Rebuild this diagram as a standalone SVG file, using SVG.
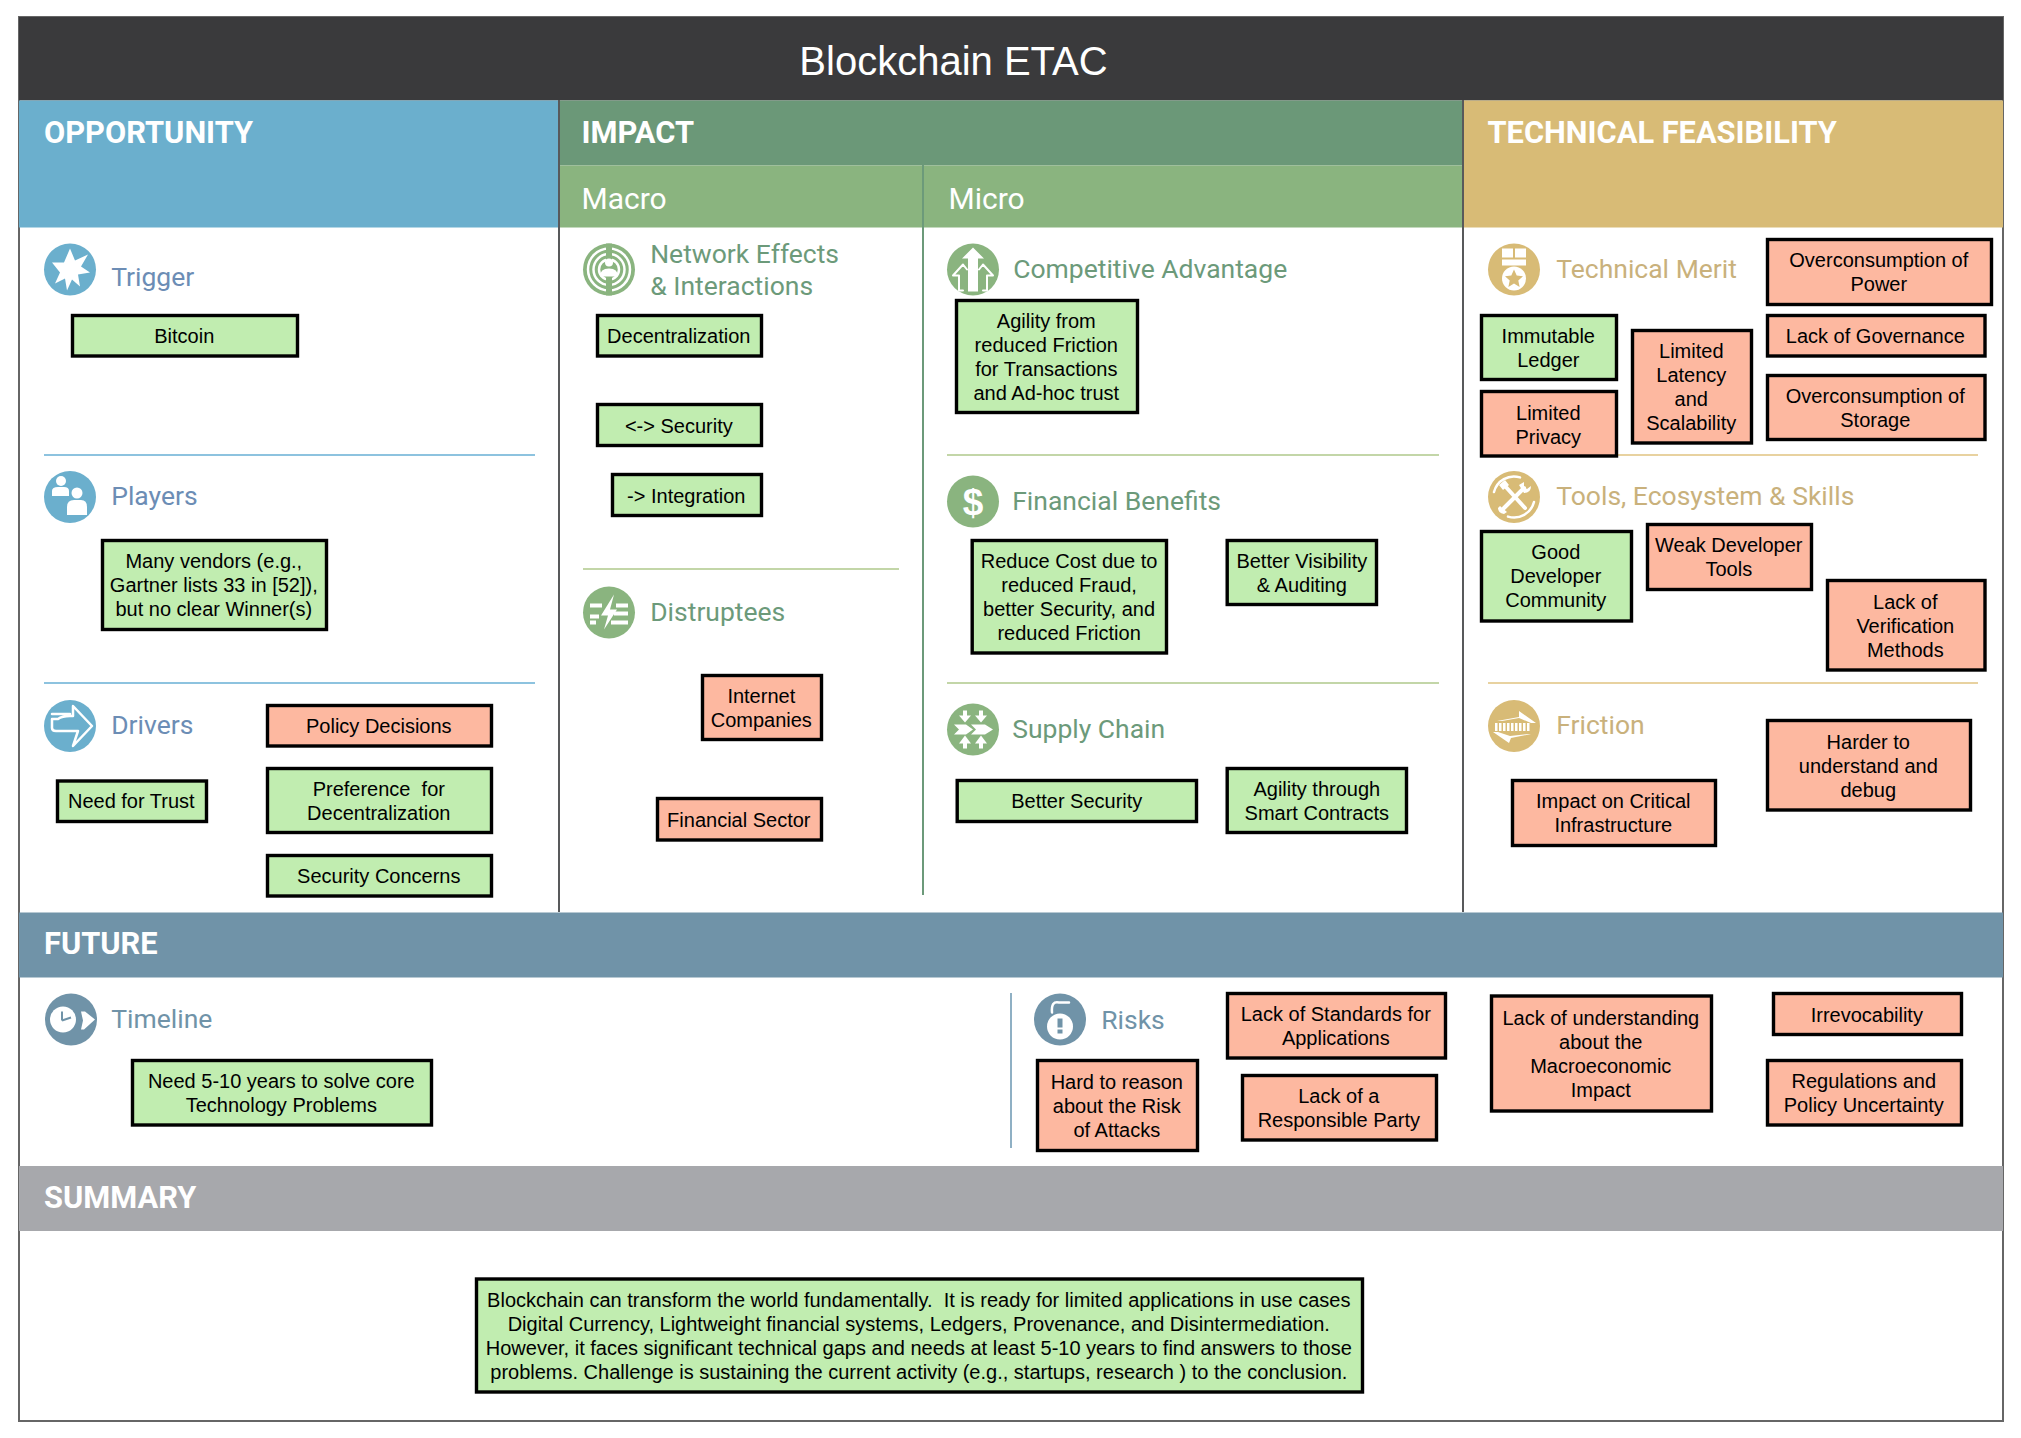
<svg xmlns="http://www.w3.org/2000/svg" width="2021" height="1438" viewBox="0 0 2021 1438">
<style>
text{white-space:pre}
.b{font:20px "Liberation Sans",Arial,sans-serif;fill:#000;text-anchor:middle;transform:translateX(-.7px)}
.g{fill:#c1edb0;stroke:#000;stroke-width:3.4}
.r{fill:#fdb8a0;stroke:#000;stroke-width:3.4}
.h{font:bold 30.8px Roboto,"Liberation Sans",sans-serif;fill:#fff}
.m{font:30px Roboto,"Liberation Sans",sans-serif;fill:#fff}
.s{font:26.5px Roboto,"Liberation Sans",sans-serif;transform:translate(-.8px,1px)}
.cb{fill:#6c8db5}.cg{fill:#6c9a7a}.cy{fill:#c9b17c}.cf{fill:#7093a8}
.w{fill:#fff}.ol{fill:none;stroke:#fff;stroke-width:2.5;stroke-linecap:round;stroke-linejoin:round}
.sb{stroke:#8dc3df;stroke-width:2}.sg{stroke:#c3d6a8;stroke-width:2}.sy{stroke:#e8d2a0;stroke-width:2}
</style>
<rect width="2021" height="1438" fill="#fff"/>
<g id="bands">
<rect x="19" y="17" width="1984" height="1404" fill="#fff" stroke="#666" stroke-width="2"/>
<rect x="19" y="17" width="1984" height="83.500" fill="#3a3a3c"/>
<rect x="19" y="100.500" width="540" height="127" fill="#6bafcd"/>
<rect x="559" y="100.500" width="904" height="65" fill="#6b9878"/>
<rect x="559" y="165.500" width="904" height="62" fill="#8ab47f"/>
<rect x="1463" y="100.500" width="540" height="127" fill="#d8bb76"/>
<rect x="19" y="912.500" width="1984" height="65" fill="#7093a8"/>
<rect x="19" y="1166" width="1984" height="65" fill="#a7a8ac"/>
<text x="953.500" y="74.500" font-family="Liberation Sans,Arial,sans-serif" font-size="40" fill="#fff" text-anchor="middle">Blockchain ETAC</text>
<text class="h" x="44" y="143">OPPORTUNITY</text>
<text class="h" x="581.500" y="143">IMPACT</text>
<text class="h" x="1487.500" y="143">TECHNICAL FEASIBILITY</text>
<text class="h" x="44" y="954">FUTURE</text>
<text class="h" x="44" y="1208">SUMMARY</text>
<text class="m" x="581.500" y="209">Macro</text>
<text class="m" x="948.500" y="208.500">Micro</text>
</g>
<g id="connectors" fill="none">
<line x1="559" y1="100" x2="559" y2="912" stroke="#58595b" stroke-width="2"/>
<line x1="1463" y1="100" x2="1463" y2="912" stroke="#58595b" stroke-width="2"/>
<line x1="923" y1="165" x2="923" y2="895" stroke="#6c9a7a" stroke-width="2"/>
<line x1="1011" y1="993" x2="1011" y2="1148" stroke="#8fb0c4" stroke-width="2"/>
<line class="sb" x1="44" y1="455" x2="535" y2="455"/>
<line class="sb" x1="44" y1="683" x2="535" y2="683"/>
<line class="sg" x1="583" y1="569" x2="899" y2="569"/>
<line class="sg" x1="947" y1="455" x2="1439" y2="455"/>
<line class="sg" x1="947" y1="683" x2="1439" y2="683"/>
<line class="sy" x1="1618" y1="455" x2="1978" y2="455"/>
<line class="sy" x1="1488" y1="683" x2="1978" y2="683"/>
</g>

<g id="icon-trigger" transform="translate(70 269.500)"><circle r="26" fill="#6bafcd"/><polygon class="w" points="0,-21 5,-9 18,-15 11,-3 20,3 8,5 10,17 2,10 -3,21 -5,9 -15,14 -10,3 -18,-7 -6,-7"/></g>
<text class="s cb" x="112" y="285">Trigger</text>
<g id="icon-players" transform="translate(70 497)"><circle r="26" fill="#6bafcd"/><circle class="w" cx="-9" cy="-16" r="5"/><path class="w" d="M-18,-1V-6Q-18,-10 -12,-10H-6Q-1,-10 -1,-6V-1Z"/><circle class="w" cx="7" cy="-4" r="5.500"/><path class="w" d="M-3,18V10Q-3,3 4,3H11Q17,3 17,10V18Z"/></g>
<text class="s cb" x="112" y="504">Players</text>
<g id="icon-drivers" transform="translate(70 726)"><circle r="26" fill="#6bafcd"/><path class="ol" d="M-18,-7H-12Q-8,-10 0,-10H3V-20L22,0L3,20L8,5H-4M-18,-7V2Q-18,5 -14,5H-4M-18,-12H0"/></g>
<text class="s cb" x="112" y="733">Drivers</text>

<g id="icon-network" transform="translate(609 269.500)"><circle r="26" fill="#8ab47f"/><circle r="21" class="ol"/><circle r="15.500" class="ol"/><circle r="10" class="ol"/><rect x="-3" y="-26" width="6" height="52" fill="#8ab47f"/><circle class="w" cy="-7" r="4"/><path class="w" d="M-9,7Q-9,-1 0,-1Q9,-1 9,7Z"/></g>
<text class="s cg" x="651" y="262">Network Effects</text>
<text class="s cg" x="651" y="293.500">&amp; Interactions</text>
<g id="icon-disruptees" transform="translate(609 612.500)"><circle r="26" fill="#8ab47f"/><path class="w" d="M-19,-9H-7V-5H-19ZM-19,2H-10V6H-19ZM-19,8H-13V12H-19ZM7,-9H19V-5H7ZM5,-1H19V3H5ZM2,8H19V12H2Z"/><polygon class="w" points="5,-18 -8,3 -1,3 -5,17 8,-3 1,-3"/></g>
<text class="s cg" x="651" y="620">Distruptees</text>

<g id="icon-competitive" transform="translate(973 269.500)"><circle r="26" fill="#8ab47f"/><polygon class="w" points="0,-22 11,-11 5,-11 5,22 -5,22 -5,-11 -11,-11"/><path class="ol" style="stroke-width:2" d="M-10,21H-14V6H-20L-10,-5L-6,0M10,21H14V6H20L10,-5L6,0"/></g>
<text class="s cg" x="1014" y="277">Competitive Advantage</text>
<g id="icon-financial" transform="translate(973 501.500)"><circle r="26" fill="#8ab47f"/><text x="0" y="13" font-family="Liberation Sans,Arial,sans-serif" font-weight="bold" font-size="37" fill="#fff" text-anchor="middle">$</text></g>
<text class="s cg" x="1013" y="509">Financial Benefits</text>
<g id="icon-supply" transform="translate(973 729.500)"><circle r="26" fill="#8ab47f"/><path class="w" d="M-10,-19H-6V-14H-2L-8,-7L-14,-14H-10ZM6,-19H10V-14H14L8,-7L2,-14H6ZM-8,6L-14,14H-10V19H-6V14H-2ZM8,6L2,14H6V19H10V14H14Z"/><polygon class="w" points="-19,-5 -7,-5 0,0 -7,5 -19,5 -14,0"/><polygon class="w" points="-2,-5 12,-5 20,0 12,5 -2,5 3,0"/></g>
<text class="s cg" x="1013" y="737">Supply Chain</text>

<g id="icon-merit" transform="translate(1514 269.500)"><circle r="26" fill="#d8bb76"/><rect class="w" x="-12" y="-21" width="11" height="9"/><rect class="w" x="1" y="-21" width="11" height="9"/><rect class="w" x="-12" y="-10" width="24" height="6"/><circle class="w" cy="9" r="12"/><polygon points="0,0 2.700,6 9,6.700 4.300,11 5.600,17.500 0,14 -5.600,17.500 -4.300,11 -9,6.700 -2.700,6" fill="#d8bb76"/></g>
<text class="s cy" x="1557" y="277">Technical Merit</text>
<g id="icon-tools" transform="translate(1514 497)"><circle r="26" fill="#d8bb76"/><path class="ol" d="M-20,-5A20.500,20.500 0 0 1 6,-19.600M20,5A20.500,20.500 0 0 1 -6,19.600"/><path class="ol" style="stroke-width:4" d="M-10,11L10,-9M-9,-11L11,11"/><path class="w" d="M-15,-12L-9,-17L-5,-12L-11,-7ZM5,-12L10,-15V-10L13,-8L17,-11Q17,-4 10,-4ZM-14,9L-7,15L-10,17Q-16,16 -16,11Z"/></g>
<text class="s cy" x="1557" y="504">Tools, Ecosystem &amp; Skills</text>
<g id="icon-friction" transform="translate(1514 726)"><circle r="26" fill="#d8bb76"/><polygon class="w" points="5,-15 22,-3 17,-3 5,-8 -12,-5 -17,-5 5,-9"/><polygon class="w" points="-5,17 -21,6 -16,6 -4,10 14,8 17,8 -3,12"/><line x1="-19" y1="1" x2="17" y2="1" stroke="#fff" stroke-width="8" stroke-dasharray="2.500 1.500"/></g>
<text class="s cy" x="1557" y="733">Friction</text>

<g id="icon-timeline" transform="translate(71 1019.500)"><circle r="26" fill="#7093a8"/><circle class="w" cx="-8" cy="0" r="13"/><path d="M-9,1V-8M-9,1L0,-2" fill="none" stroke="#7093a8" stroke-width="2"/><polygon class="w" points="10,-8 14,-8 24,0 13,10 10,10 12,1"/></g>
<text class="s cf" x="112" y="1027">Timeline</text>
<g id="icon-risks" transform="translate(1060 1019.500)"><circle r="26" fill="#7093a8"/><circle class="w" cy="7" r="13"/><path class="ol" d="M-8,-7Q-9,-19 -1,-17H9M-8,-7"/><rect x="-2.500" y="-1" width="5" height="9" fill="#7093a8"/><rect x="-2.500" y="10" width="5" height="4" fill="#7093a8"/></g>
<text class="s cf" x="1102" y="1028">Risks</text>

<g id="n-bitcoin"><rect class="g" x="72.500" y="315.500" width="225" height="40.500"/><text class="b" x="185" y="343">Bitcoin</text></g>
<g id="n-vendors"><rect class="g" x="102.500" y="540.500" width="224" height="89"/><text class="b"><tspan x="214.500" y="568">Many vendors (e.g.,</tspan><tspan x="214.500" y="592">Gartner lists 33 in [52]),</tspan><tspan x="214.500" y="616">but no clear Winner(s)</tspan></text></g>
<g id="n-policy"><rect class="r" x="267.500" y="705.500" width="224" height="40.500"/><text class="b" x="379.500" y="733">Policy Decisions</text></g>
<g id="n-pref"><rect class="g" x="267.500" y="768.500" width="224" height="64"/><text class="b"><tspan x="379.500" y="795.500">Preference  for</tspan><tspan x="379.500" y="819.500">Decentralization</tspan></text></g>
<g id="n-secc"><rect class="g" x="267.500" y="855.500" width="224" height="40.500"/><text class="b" x="379.500" y="883">Security Concerns</text></g>
<g id="n-need"><rect class="g" x="57.500" y="781" width="149" height="40.500"/><text class="b" x="132" y="808">Need for Trust</text></g>
<g id="n-decent"><rect class="g" x="597.500" y="315.500" width="164" height="40.500"/><text class="b" x="679.500" y="343">Decentralization</text></g>
<g id="n-security"><rect class="g" x="597.500" y="404.500" width="164" height="41"/><text class="b" x="679.500" y="432.500">&lt;-&gt; Security</text></g>
<g id="n-integ"><rect class="g" x="612.500" y="474.500" width="149" height="41"/><text class="b" x="687" y="502.500">-&gt; Integration</text></g>
<g id="n-internet"><rect class="r" x="702.500" y="675.500" width="119" height="64"/><text class="b"><tspan x="762" y="702.500">Internet</tspan><tspan x="762" y="726.500">Companies</tspan></text></g>
<g id="n-fin"><rect class="r" x="657.500" y="798.500" width="164" height="41.500"/><text class="b" x="739.500" y="827">Financial Sector</text></g>
<g id="n-agility"><rect class="g" x="956.500" y="300.500" width="181" height="112"/><text class="b"><tspan x="1047" y="327.500">Agility from</tspan><tspan x="1047" y="351.500">reduced Friction</tspan><tspan x="1047" y="375.500">for Transactions</tspan><tspan x="1047" y="399.500">and Ad-hoc trust</tspan></text></g>
<g id="n-reduce"><rect class="g" x="972.200" y="540.500" width="194.300" height="112.500"/><text class="b"><tspan x="1069.800" y="567.500">Reduce Cost due to</tspan><tspan x="1069.800" y="591.500">reduced Fraud,</tspan><tspan x="1069.800" y="615.500">better Security, and</tspan><tspan x="1069.800" y="639.500">reduced Friction</tspan></text></g>
<g id="n-vis"><rect class="g" x="1227.200" y="540.500" width="149.300" height="64"/><text class="b"><tspan x="1302.500" y="567.500">Better Visibility</tspan><tspan x="1302.500" y="591.500">&amp; Auditing</tspan></text></g>
<g id="n-bsec"><rect class="g" x="957.200" y="780.500" width="239.300" height="41"/><text class="b" x="1077.500" y="808">Better Security</text></g>
<g id="n-smart"><rect class="g" x="1227.200" y="768.500" width="179.300" height="64"/><text class="b"><tspan x="1317.500" y="795.500">Agility through</tspan><tspan x="1317.500" y="819.500">Smart Contracts</tspan></text></g>
<g id="n-power"><rect class="r" x="1767.500" y="239.500" width="224" height="65"/><text class="b"><tspan x="1879.500" y="267">Overconsumption of</tspan><tspan x="1879.500" y="291">Power</tspan></text></g>
<g id="n-gov"><rect class="r" x="1767.500" y="315.500" width="217.500" height="40.500"/><text class="b" x="1876" y="343">Lack of Governance</text></g>
<g id="n-storage"><rect class="r" x="1767.500" y="375.500" width="217.500" height="64"/><text class="b"><tspan x="1876" y="402.500">Overconsumption of</tspan><tspan x="1876" y="426.500">Storage</tspan></text></g>
<g id="n-immut"><rect class="g" x="1481.500" y="315.500" width="135" height="64"/><text class="b"><tspan x="1549" y="342.500">Immutable</tspan><tspan x="1549" y="366.500">Ledger</tspan></text></g>
<g id="n-priv"><rect class="r" x="1481.500" y="391.500" width="135" height="64.500"/><text class="b"><tspan x="1549" y="419.500">Limited</tspan><tspan x="1549" y="443.500">Privacy</tspan></text></g>
<g id="n-latency"><rect class="r" x="1632.500" y="330.500" width="119" height="112.500"/><text class="b"><tspan x="1692" y="357.500">Limited</tspan><tspan x="1692" y="381.500">Latency</tspan><tspan x="1692" y="405.500">and</tspan><tspan x="1692" y="429.500">Scalability</tspan></text></g>
<g id="n-gooddev"><rect class="g" x="1481.500" y="531.500" width="150" height="89.500"/><text class="b"><tspan x="1556.500" y="559">Good</tspan><tspan x="1556.500" y="583">Developer</tspan><tspan x="1556.500" y="607">Community</tspan></text></g>
<g id="n-weak"><rect class="r" x="1647.500" y="524.500" width="164" height="65"/><text class="b"><tspan x="1729.500" y="552">Weak Developer</tspan><tspan x="1729.500" y="576">Tools</tspan></text></g>
<g id="n-verif"><rect class="r" x="1827.500" y="580.500" width="157.500" height="89.500"/><text class="b"><tspan x="1906" y="608.500">Lack of</tspan><tspan x="1906" y="632.500">Verification</tspan><tspan x="1906" y="656.500">Methods</tspan></text></g>
<g id="n-crit"><rect class="r" x="1512.500" y="780.500" width="203" height="65"/><text class="b"><tspan x="1614" y="808">Impact on Critical</tspan><tspan x="1614" y="832">Infrastructure</tspan></text></g>
<g id="n-harder"><rect class="r" x="1767.500" y="720.500" width="203" height="89.500"/><text class="b"><tspan x="1869" y="748.500">Harder to</tspan><tspan x="1869" y="772.500">understand and</tspan><tspan x="1869" y="796.500">debug</tspan></text></g>
<g id="n-need5"><rect class="g" x="132.500" y="1060.500" width="299" height="64.500"/><text class="b"><tspan x="282" y="1087.500">Need 5-10 years to solve core</tspan><tspan x="282" y="1111.500">Technology Problems</tspan></text></g>
<g id="n-standards"><rect class="r" x="1227.500" y="993.500" width="218" height="64.500"/><text class="b"><tspan x="1336.500" y="1020.500">Lack of Standards for</tspan><tspan x="1336.500" y="1044.500">Applications</tspan></text></g>
<g id="n-party"><rect class="r" x="1242.500" y="1075.500" width="194" height="64.500"/><text class="b"><tspan x="1339.500" y="1103">Lack of a</tspan><tspan x="1339.500" y="1127">Responsible Party</tspan></text></g>
<g id="n-hard"><rect class="r" x="1037.500" y="1060.500" width="160" height="90"/><text class="b"><tspan x="1117.500" y="1088.500">Hard to reason</tspan><tspan x="1117.500" y="1112.500">about the Risk</tspan><tspan x="1117.500" y="1136.500">of Attacks</tspan></text></g>
<g id="n-macro"><rect class="r" x="1491.500" y="996" width="220" height="115"/><text class="b"><tspan x="1601.500" y="1025">Lack of understanding</tspan><tspan x="1601.500" y="1049">about the</tspan><tspan x="1601.500" y="1073">Macroeconomic</tspan><tspan x="1601.500" y="1097">Impact</tspan></text></g>
<g id="n-irrev"><rect class="r" x="1773.500" y="993.500" width="188" height="41"/><text class="b" x="1867.500" y="1022">Irrevocability</text></g>
<g id="n-reg"><rect class="r" x="1767.500" y="1060.500" width="194" height="64.500"/><text class="b"><tspan x="1864.500" y="1087.500">Regulations and</tspan><tspan x="1864.500" y="1111.500">Policy Uncertainty</tspan></text></g>
<g id="n-summary"><rect class="g" x="476.500" y="1279" width="886" height="113"/><text class="b"><tspan x="919.500" y="1307">Blockchain can transform the world fundamentally.  It is ready for limited applications in use cases</tspan><tspan x="919.500" y="1331">Digital Currency, Lightweight financial systems, Ledgers, Provenance, and Disintermediation.</tspan><tspan x="919.500" y="1355">However, it faces significant technical gaps and needs at least 5-10 years to find answers to those</tspan><tspan x="919.500" y="1379">problems. Challenge is sustaining the current activity (e.g., startups, research ) to the conclusion.</tspan></text></g>
</svg>
